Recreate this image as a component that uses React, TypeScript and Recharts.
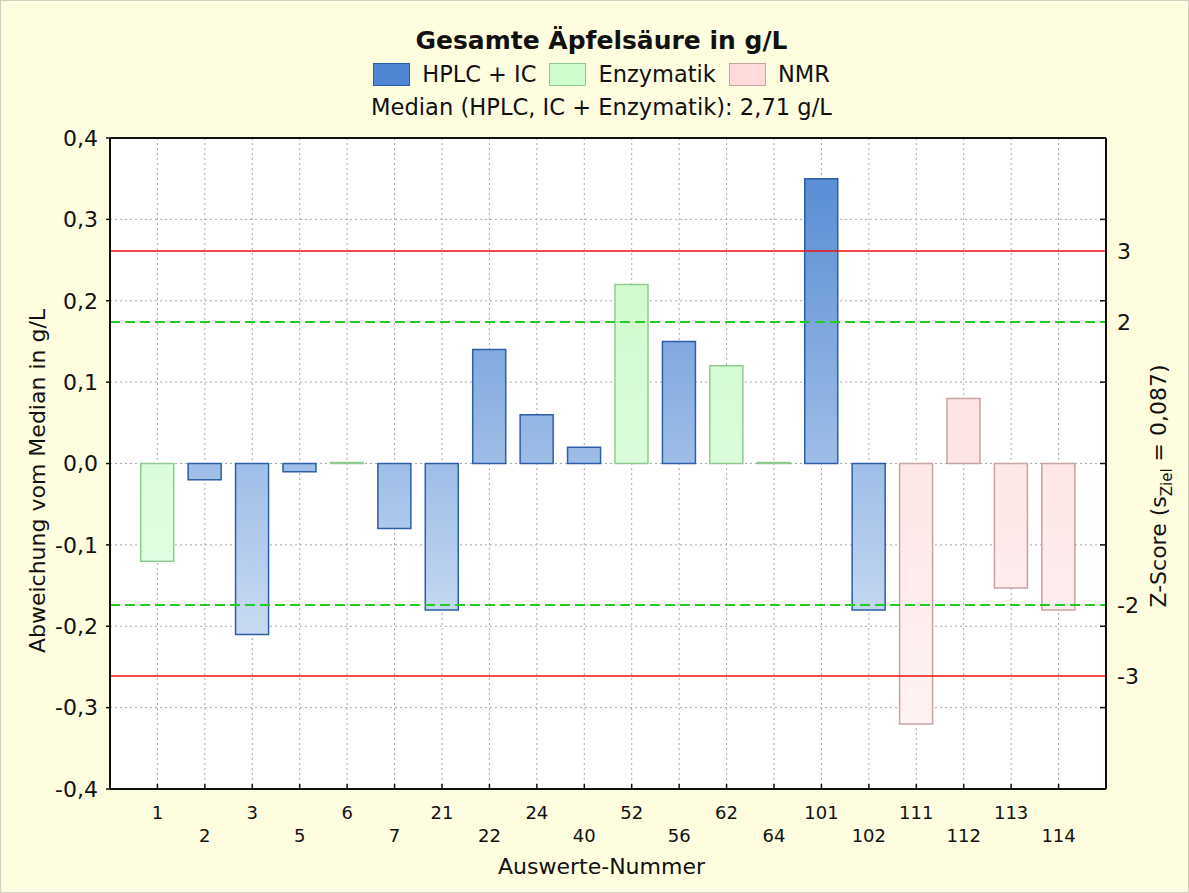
import { BarChart, Bar, Cell, XAxis, YAxis, CartesianGrid, ReferenceLine } from "recharts";

// Auswerte-Nummer (Labore) und Abweichung vom Median in g/L
const IDS = ["1", "2", "3", "5", "6", "7", "21", "22", "24", "40", "52", "56", "62", "64", "101", "102", "111", "112", "113", "114"];
const DEVIATION = [-0.12, -0.02, -0.21, -0.01, 0, -0.08, -0.18, 0.14, 0.06, 0.02, 0.22, 0.15, 0.12, 0, 0.35, -0.18, -0.32, 0.08, -0.153, -0.18];
const METHOD = ["enz", "hplc", "hplc", "hplc", "enz", "hplc", "hplc", "hplc", "hplc", "hplc", "enz", "hplc", "enz", "enz", "hplc", "hplc", "nmr", "nmr", "nmr", "nmr"];

const Y_TICKS = [-0.4, -0.3, -0.2, -0.1, 0, 0.1, 0.2, 0.3, 0.4];
const S_ZIEL = 0.087;
const Z_LIMITS = [3, 2, -2, -3];

const FONT = "'DejaVu Sans', 'Liberation Sans', sans-serif";
const INK = "#111";

const METHODS: Record<string, { label: string; fill: string; swatch: string; stroke: string }> = {
  hplc: { label: "HPLC + IC", fill: "url(#gHplc)", swatch: "#4f87d2", stroke: "#2d5ea8" },
  enz: { label: "Enzymatik", fill: "url(#gEnz)", swatch: "#cdfccd", stroke: "#8fcb8f" },
  nmr: { label: "NMR", fill: "url(#gNmr)", swatch: "#ffdada", stroke: "#c9a2a2" },
};

const data = IDS.map((id, i) => ({ id, value: DEVIATION[i], method: METHOD[i] }));

const fmt = (v: number) => v.toFixed(1).replace(".", ",");

function XTick(props: any) {
  const { x, y, payload, index } = props;
  return (
    <g>
      <line x1={x} x2={x} y1={y} y2={y - 5} stroke={INK} strokeWidth={1.5} />
      <text x={x} y={y + (index % 2 ? 53 : 30)} textAnchor="middle" fontSize={18} fontFamily={FONT} fill={INK}>
        {payload.value}
      </text>
    </g>
  );
}

function ZTick(props: any) {
  const { x, y, payload } = props;
  const z = Z_LIMITS.find((k) => Math.abs(k * S_ZIEL - payload.value) < 1e-6);
  if (z === undefined) {
    return <line x1={x} x2={x - 6} y1={y} y2={y} stroke={INK} strokeWidth={1.5} />;
  }
  return (
    <text x={x + 11} y={y + 8} fontSize={22} fontFamily={FONT} fill={INK}>
      {z}
    </text>
  );
}

export default function App() {
  const rightTicks = [...Y_TICKS.slice(1, -1), ...Z_LIMITS.map((z) => z * S_ZIEL)];

  return (
    <div
      style={{
        position: "absolute",
        left: 0,
        top: 0,
        width: 1189,
        height: 893,
        background: "#fefde0",
        fontFamily: FONT,
        color: INK,
        boxSizing: "border-box",
        border: "1px solid #cfcfc0",
      }}
    >
      <div style={{ position: "absolute", left: 6, top: 0, width: 1189, textAlign: "center" }}>
        <div style={{ position: "absolute", top: 27, width: "100%", fontSize: 25, lineHeight: "25px", fontWeight: "bold" }}>
          Gesamte Äpfelsäure in g/L
        </div>
        <div
          style={{
            position: "absolute",
            top: 62,
            width: "100%",
            display: "flex",
            justifyContent: "center",
            alignItems: "center",
            fontSize: 22.5,
            lineHeight: "23px",
          }}
        >
          {Object.keys(METHODS).map((k, i) => (
            <div key={k} style={{ display: "flex", alignItems: "center", marginLeft: i ? 13 : 0 }}>
              <div
                style={{
                  width: 37,
                  height: 23,
                  boxSizing: "border-box",
                  background: METHODS[k].swatch,
                  border: `1.5px solid ${METHODS[k].stroke}`,
                  marginRight: 12,
                }}
              />
              <span>{METHODS[k].label}</span>
            </div>
          ))}
        </div>
        <div style={{ position: "absolute", top: 95, width: "100%", fontSize: 22.6, lineHeight: "22px" }}>
          Median (HPLC, IC + Enzymatik): 2,71 g/L
        </div>
        <div style={{ position: "absolute", top: 855, width: "100%", fontSize: 22, lineHeight: "22px" }}>
          Auswerte-Nummer
        </div>
      </div>

      <div
        style={{
          position: "absolute",
          left: 36,
          top: 480,
          transform: "translate(-50%, -50%) rotate(-90deg)",
          whiteSpace: "nowrap",
          fontSize: 22,
        }}
      >
        Abweichung vom Median in g/L
      </div>
      <div
        style={{
          position: "absolute",
          left: 1160,
          top: 485,
          transform: "translate(-50%, -50%) rotate(-90deg)",
          whiteSpace: "nowrap",
          fontSize: 22,
        }}
      >
        Z-Score (s<sub style={{ fontSize: 15 }}>Ziel</sub> = 0,087)
      </div>

      <div style={{ position: "absolute", left: -1, top: -1 }}>
        <BarChart width={1189} height={893} data={data} margin={{ top: 138, right: 33, bottom: 44, left: 50 }} barSize={33}>
          <defs>
            <linearGradient id="gHplc" gradientUnits="userSpaceOnUse" x1="0" y1="138" x2="0" y2="789">
              <stop offset="0" stopColor="#4f86d2" />
              <stop offset="1" stopColor="#eef5fc" />
            </linearGradient>
            <linearGradient id="gEnz" gradientUnits="userSpaceOnUse" x1="0" y1="138" x2="0" y2="789">
              <stop offset="0" stopColor="#c6fac6" />
              <stop offset="1" stopColor="#f0fff0" />
            </linearGradient>
            <linearGradient id="gNmr" gradientUnits="userSpaceOnUse" x1="0" y1="138" x2="0" y2="789">
              <stop offset="0" stopColor="#fcd6d6" />
              <stop offset="1" stopColor="#fff6f6" />
            </linearGradient>
          </defs>
          <CartesianGrid yAxisId="left" stroke="#a9a9a9" strokeDasharray="2 3" fill="#fff" fillOpacity={1} />
          <XAxis
            dataKey="id"
            interval={0}
            padding={{ left: 23.7, right: 23.7 }}
            height={60}
            tickSize={0}
            tickMargin={0}
            tickLine={false}
            tick={<XTick />}
            axisLine={{ stroke: INK, strokeWidth: 2 }}
          />
          <YAxis
            yAxisId="left"
            domain={[-0.4, 0.4]}
            ticks={Y_TICKS}
            interval={0}
            tickFormatter={fmt}
            width={60}
            tickSize={4}
            tickMargin={8}
            tick={{ fontSize: 22, fill: INK, fontFamily: FONT }}
            tickLine={{ stroke: INK, strokeWidth: 1.5 }}
            axisLine={{ stroke: INK, strokeWidth: 2 }}
          />
          <YAxis
            yAxisId="right"
            orientation="right"
            type="number"
            domain={[-0.4, 0.4]}
            allowDataOverflow
            ticks={rightTicks}
            interval={0}
            width={50}
            tickSize={0}
            tickMargin={0}
            tickLine={false}
            tick={<ZTick />}
            axisLine={{ stroke: INK, strokeWidth: 2 }}
          />
          <Bar yAxisId="left" dataKey="value" minPointSize={1} isAnimationActive={false} strokeWidth={1.5}>
            {data.map((d) => (
              <Cell key={d.id} fill={METHODS[d.method].fill} stroke={METHODS[d.method].stroke} />
            ))}
          </Bar>
          {Z_LIMITS.map((z) => (
            <ReferenceLine
              key={z}
              yAxisId="left"
              y={z * S_ZIEL}
              stroke={Math.abs(z) === 3 ? "#ee1111" : "#22cc22"}
              strokeWidth={Math.abs(z) === 3 ? 1.5 : 2}
              strokeDasharray={Math.abs(z) === 3 ? undefined : "10 5"}
            />
          ))}
          <ReferenceLine yAxisId="left" y={0.4} stroke={INK} strokeWidth={2} />
        </BarChart>
      </div>
    </div>
  );
}
